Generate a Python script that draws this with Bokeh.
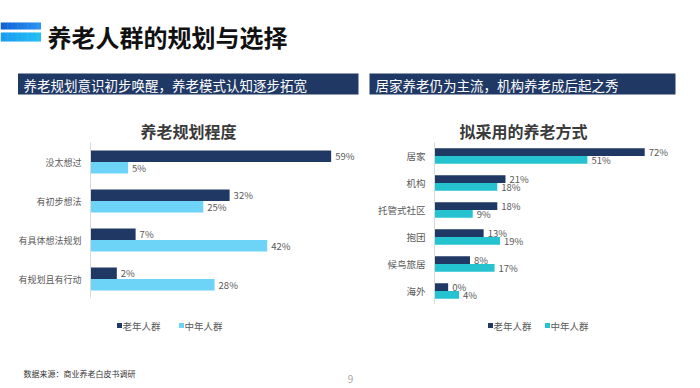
from bokeh.plotting import figure
from bokeh.models import ColumnDataSource, FactorRange, Range1d
from bokeh.layouts import column, row
from bokeh.transform import dodge
from bokeh.core.properties import value
from bokeh.embed import file_html
from bokeh.resources import INLINE

# ---------------- data ----------------
page_title = "养老人群的规划与选择"
left_heading = "养老规划意识初步唤醒，养老模式认知逐步拓宽"
right_heading = "居家养老仍为主流，机构养老成后起之秀"
left_chart_title = "养老规划程度"
right_chart_title = "拟采用的养老方式"
series_names = ["老年人群", "中年人群"]

plan_categories = ["没太想过", "有初步想法", "有具体想法规划", "有规划且有行动"]
plan_elderly = [59, 32, 7, 2]
plan_middle = [5, 25, 42, 28]

mode_categories = ["居家", "机构", "托管式社区", "抱团", "候鸟旅居", "海外"]
mode_elderly = [72, 21, 18, 13, 8, 0]
mode_middle = [51, 18, 9, 19, 17, 4]

source_note = "数据来源：商业养老白皮书调研"
page_number = "9"

# ---------------- style ----------------
CJK = "Noto Sans CJK SC"
NAVY = "#203864"
LIGHT_LEFT = "#6dd3f7"
TEAL_RIGHT = "#25c3cf"
LABEL_GRAY = "#595959"
BASE = -5  # bars grow from the axis line (as in the reference, the 0% bar keeps a stub)


def blank(width, height, x0, x1, y0, y1):
    p = figure(width=width, height=height, x_range=Range1d(x0, x1), y_range=Range1d(y0, y1),
               x_axis_type=None, y_axis_type=None, toolbar_location=None,
               output_backend="svg", min_border=0)
    p.grid.visible = False
    p.outline_line_color = None
    p.background_fill_color = "white"
    p.border_fill_color = "white"
    return p


def lerp_hex(c1, c2, t):
    a = [int(c1[i:i + 2], 16) for i in (1, 3, 5)]
    b = [int(c2[i:i + 2], 16) for i in (1, 3, 5)]
    return "#" + "".join(f"{round(a[k] + (b[k] - a[k]) * t):02x}" for k in range(3))


# ---------------- header (page px 0..692 x 0..142) ----------------
HEADER_H = 142
header = blank(692, HEADER_H, 0, 692, HEADER_H, 0)
n = 12
lefts = [40 * i / n for i in range(n)]
rights = [40 * (i + 1) / n + 0.5 for i in range(n)]
header.quad(left=lefts, right=rights, top=[22] * n, bottom=[29] * n,
            color=[lerp_hex("#1462d6", "#2a92f0", i / (n - 1)) for i in range(n)], line_color=None)
header.quad(left=lefts, right=rights, top=[32] * n, bottom=[41] * n,
            color=[lerp_hex("#1a9cf0", "#22bdf6", i / (n - 1)) for i in range(n)], line_color=None)
header.text(x=[47], y=[36], text=[page_title], text_font=value(CJK), text_font_style="bold",
            text_font_size="24px", text_color="#111111", text_baseline="middle", text_align="left")

header.quad(left=[17.5, 369], right=[358, 675], top=[73, 73], bottom=[94, 94],
            color=NAVY, line_color=None)
header.text(x=[23, 375], y=[84, 84], text=[left_heading, right_heading], text_font=value(CJK),
            text_font_size="13.5px", text_color="white", text_baseline="middle", text_align="left")

header.text(x=[188, 523], y=[130, 130], text=[left_chart_title, right_chart_title],
            text_font=value(CJK), text_font_style="bold", text_font_size="16px",
            text_color="#3a3a3a", text_baseline="middle", text_align="center")


# ---------------- bar charts ----------------
def bar_chart(width, height, cats, v1, v2, c2, border_left, border_right,
              px_per_unit, bar_px, cat_font):
    frame_w = width - border_left - border_right
    bar_h = bar_px / (height / len(cats))
    yr = FactorRange(factors=list(reversed(cats)))
    xr = Range1d(BASE, BASE + frame_w / px_per_unit)
    p = figure(width=width, height=height, x_range=xr, y_range=yr, x_axis_location=None,
               toolbar_location=None, output_backend="svg",
               min_border_left=border_left, min_border_right=border_right,
               min_border_top=0, min_border_bottom=0)
    p.grid.visible = False
    p.outline_line_color = None
    p.background_fill_color = "white"
    p.border_fill_color = "white"

    src = ColumnDataSource(dict(
        cat=cats, base=[BASE] * len(cats), v1=v1, v2=v2,
        l1=[f"{v}%" for v in v1], l2=[f"{v}%" for v in v2]))
    off = bar_h / 2
    p.hbar(y=dodge("cat", off, range=yr), left="base", right="v1", height=bar_h,
           source=src, color=NAVY, line_color=None)
    p.hbar(y=dodge("cat", -off, range=yr), left="base", right="v2", height=bar_h,
           source=src, color=c2, line_color=None)
    for vcol, lcol, o in (("v1", "l1", off), ("v2", "l2", -off)):
        p.text(x=vcol, y=dodge("cat", o, range=yr), text=lcol, source=src,
               x_offset=4, text_font=value(CJK), text_font_size="9.5px", text_color=LABEL_GRAY,
               text_baseline="middle", text_align="left")

    ax = p.yaxis[0]
    ax.axis_line_color = "#d9d9d9"
    ax.major_tick_line_color = None
    ax.minor_tick_line_color = None
    ax.major_label_standoff = 3
    ax.major_label_text_font = CJK
    ax.major_label_text_font_size = cat_font
    ax.major_label_text_color = LABEL_GRAY
    return p


# left chart: frame x 90..358, y 142..298 ; right chart: frame x 434..670, y 142..304
left = bar_chart(358, 298 - HEADER_H, plan_categories, plan_elderly, plan_middle, LIGHT_LEFT,
                 90, 0, 3.76, 11.5, "9px")
right = bar_chart(334, 304 - HEADER_H, mode_categories, mode_elderly, mode_middle, TEAL_RIGHT,
                  76, 22, 2.73, 7.8, "9.5px")

# ---------------- footer with legends (page px 304..386) ----------------
footer = blank(692, 82, 0, 692, 386, 304)
legend_sets = [
    ([119, 181], [NAVY, LIGHT_LEFT]),
    ([490, 547], [NAVY, TEAL_RIGHT]),
]
for xs, cols in legend_sets:
    footer.scatter(x=xs, y=[325, 325], marker="square", size=5, color=cols, line_color=None)
    footer.text(x=[x + 3 for x in xs], y=[325, 325], text=series_names, text_font=value(CJK),
                text_font_size="9.5px", text_color=LABEL_GRAY, text_baseline="middle",
                text_align="left")

footer.text(x=[23], y=[373], text=[source_note], text_font=value(CJK), text_font_size="8px",
            text_color="#333333", text_baseline="middle", text_align="left")
footer.text(x=[350], y=[378], text=[page_number], text_font=value(CJK), text_font_size="10px",
            text_color="#a6a6a6", text_baseline="middle", text_align="center")

layout = column(header, row(left, right, spacing=0), footer, spacing=0)
open("out.html", "w").write(file_html(layout, INLINE))
